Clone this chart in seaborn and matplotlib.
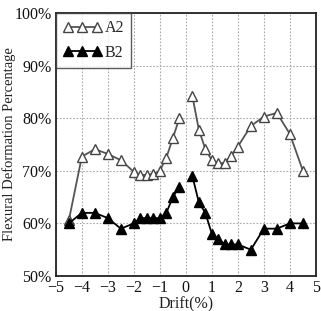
import matplotlib
matplotlib.use("Agg")
import matplotlib.pyplot as plt
import seaborn as sns
import pandas as pd
import numpy as np
from matplotlib.ticker import FuncFormatter

drift = [-4.5, -4, -3.5, -3, -2.5, -2, -1.75, -1.5, -1.25, -1, -0.75, -0.5, -0.25,
         0.25, 0.5, 0.75, 1, 1.25, 1.5, 1.75, 2, 2.5, 3, 3.5, 4, 4.5]
a2 = [60.6, 72.7, 74.1, 73.2, 72.0, 69.8, 69.2, 69.2, 69.4, 70.0, 72.5, 76.2, 80.0,
      84.2, 77.8, 74.1, 72.0, 71.4, 71.5, 72.9, 74.6, 78.5, 80.3, 81.0, 77.0, 70.0]
b2 = [60.0, 62.0, 62.0, 61.0, 59.0, 60.0, 61.0, 61.0, 61.0, 61.0, 62.0, 65.0, 67.0,
      69.0, 64.0, 62.0, 58.0, 57.0, 56.0, 56.0, 56.0, 55.0, 59.0, 59.0, 60.0, 60.0]
x_ticks = [-5, -4, -3, -2, -1, 0, 1, 2, 3, 4, 5]
y_ticks = [50, 60, 70, 80, 90, 100]

sns.set_theme(style="white")
plt.rcParams['font.family'] = ['Liberation Serif', 'DejaVu Serif']

df = pd.DataFrame({"drift": drift * 2, "value": a2 + b2,
                   "series": ["A2"] * len(drift) + ["B2"] * len(drift)})
df["side"] = np.where(df["drift"] < 0, "neg", "pos")

fig = plt.figure(figsize=(3.21, 3.11), dpi=100)
ax = fig.add_axes([0.174, 0.1125, 0.81, 0.846])

styles = {"A2": dict(color="#555555", mfc="white", mec="#444444"),
          "B2": dict(color="black", mfc="black", mec="black")}
for s in ["A2", "B2"]:
    for i, side in enumerate(["neg", "pos"]):
        sub = df[(df.series == s) & (df.side == side)]
        st = styles[s]
        sns.lineplot(data=sub, x="drift", y="value", ax=ax, color=st["color"],
                     marker="^", markersize=6.5, markerfacecolor=st["mfc"],
                     markeredgecolor=st["mec"], markeredgewidth=1.0, linewidth=1.3,
                     label=s if i == 0 else None, legend=False)

ax.set_xlim(-5, 5)
ax.set_ylim(50, 100)
ax.set_xticks(x_ticks)
ax.set_yticks(y_ticks)
ax.yaxis.set_major_formatter(FuncFormatter(lambda v, p: f"{int(v)}%"))
ax.grid(True, color="#aaaaaa", linestyle=(0, (1.5, 1.5)), linewidth=0.8)
for sp in ax.spines.values():
    sp.set_color("#222222")
    sp.set_linewidth(1.3)
ax.tick_params(axis="both", length=0, pad=3, labelsize=11.5, colors="#111111")
ax.set_xlabel("Drift(%)", fontsize=11.5, labelpad=0, color="#222222")
ax.set_ylabel("Flexural Deformation Percentage", fontsize=10.5, color="#222222")
ax.yaxis.set_label_coords(-0.152, 0.5)

handles, labels = ax.get_legend_handles_labels()
leg = ax.legend(handles, labels, loc="upper left", numpoints=3, fontsize=11.5,
                frameon=True, fancybox=False, borderaxespad=0, handlelength=2.4,
                handletextpad=0.2, borderpad=0.45, labelspacing=0.55)
leg.get_frame().set_edgecolor("#333333")
leg.get_frame().set_linewidth(1.0)

fig.savefig("out.png", dpi=100)
